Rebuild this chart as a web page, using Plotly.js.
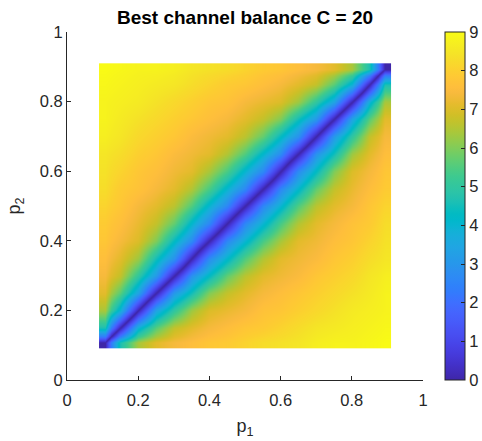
<!DOCTYPE html>
<html>
<head>
<meta charset="utf-8">
<script src="https://cdn.plot.ly/plotly-3.0.1.min.js"></script>
<style>html,body{margin:0;padding:0;background:#fff;}#chart{width:482px;height:441px;}</style>
</head>
<body>
<div id="chart"></div>
<script>
// ---- data ----
const p1Vals = [0.10,0.15,0.20,0.25,0.30,0.35,0.40,0.45,0.50,0.55,0.60,0.65,0.70,0.75,0.80,0.85,0.90];
const p2Vals = [0.10,0.15,0.20,0.25,0.30,0.35,0.40,0.45,0.50,0.55,0.60,0.65,0.70,0.75,0.80,0.85,0.90];
// balance[j][i] : value at p1 = p1Vals[i], p2 = p2Vals[j]
const balance = [
  [0.0,4.6,6.4,7.1,7.4,7.6,7.8,7.9,8.1,8.3,8.4,8.5,8.7,8.8,8.8,8.9,9.0],
  [4.6,0.0,3.9,5.6,6.7,7.1,7.4,7.6,7.8,7.9,8.1,8.3,8.5,8.6,8.7,8.8,8.9],
  [6.4,3.9,0.0,3.4,5.0,6.3,7.0,7.2,7.4,7.7,7.8,8.0,8.2,8.4,8.6,8.7,8.8],
  [7.1,5.6,3.4,0.0,3.1,4.5,6.0,6.7,7.1,7.4,7.6,7.8,8.0,8.2,8.4,8.6,8.8],
  [7.4,6.7,5.0,3.1,0.0,2.9,4.3,5.7,6.6,7.1,7.3,7.5,7.8,8.0,8.2,8.5,8.7],
  [7.6,7.1,6.3,4.5,2.9,0.0,2.7,4.1,5.5,6.5,7.1,7.3,7.5,7.8,8.0,8.3,8.5],
  [7.8,7.4,7.0,6.0,4.3,2.7,0.0,2.6,4.0,5.4,6.4,7.1,7.3,7.6,7.8,8.1,8.4],
  [7.9,7.6,7.2,6.7,5.7,4.1,2.6,0.0,2.6,4.0,5.4,6.5,7.1,7.4,7.7,7.9,8.3],
  [8.1,7.8,7.4,7.1,6.6,5.5,4.0,2.6,0.0,2.6,4.0,5.5,6.6,7.1,7.4,7.8,8.1],
  [8.3,7.9,7.7,7.4,7.1,6.5,5.4,4.0,2.6,0.0,2.6,4.1,5.7,6.7,7.2,7.6,7.9],
  [8.4,8.1,7.8,7.6,7.3,7.1,6.4,5.4,4.0,2.6,0.0,2.7,4.3,6.0,7.0,7.4,7.8],
  [8.5,8.3,8.0,7.8,7.5,7.3,7.1,6.5,5.5,4.1,2.7,0.0,2.9,4.5,6.3,7.1,7.6],
  [8.7,8.5,8.2,8.0,7.8,7.5,7.3,7.1,6.6,5.7,4.3,2.9,0.0,3.1,5.0,6.7,7.4],
  [8.8,8.6,8.4,8.2,8.0,7.8,7.6,7.4,7.1,6.7,6.0,4.5,3.1,0.0,3.4,5.6,7.1],
  [8.8,8.7,8.6,8.4,8.2,8.0,7.8,7.7,7.4,7.2,7.0,6.3,5.0,3.4,0.0,3.9,6.4],
  [8.9,8.8,8.7,8.6,8.5,8.3,8.1,7.9,7.8,7.6,7.4,7.1,6.7,5.6,3.9,0.0,4.6],
  [9.0,8.9,8.8,8.8,8.7,8.5,8.4,8.3,8.1,7.9,7.8,7.6,7.4,7.1,6.4,4.6,0.0]
];
const xTicks = [0,0.2,0.4,0.6,0.8,1];
const yTicks = [0,0.2,0.4,0.6,0.8,1];
const cbTicks = [0,1,2,3,4,5,6,7,8,9];
const titleText = 'Best channel balance C = 20';
const xLabel = 'p<sub>1</sub>';
const yLabel = 'p<sub>2</sub>';

// ---- styling ----
const parula = [
[0.2422,0.1504,0.6603],[0.2504,0.1650,0.7076],[0.2578,0.1818,0.7511],[0.2647,0.1978,0.7952],
[0.2706,0.2147,0.8364],[0.2751,0.2342,0.8710],[0.2783,0.2559,0.8991],[0.2803,0.2782,0.9221],
[0.2813,0.3006,0.9414],[0.2810,0.3228,0.9579],[0.2795,0.3447,0.9717],[0.2760,0.3667,0.9829],
[0.2699,0.3892,0.9906],[0.2602,0.4123,0.9952],[0.2440,0.4358,0.9988],[0.2206,0.4603,0.9973],
[0.1963,0.4847,0.9892],[0.1834,0.5074,0.9798],[0.1786,0.5289,0.9682],[0.1764,0.5499,0.9520],
[0.1687,0.5703,0.9359],[0.1540,0.5902,0.9218],[0.1460,0.6091,0.9079],[0.1380,0.6276,0.8973],
[0.1248,0.6459,0.8883],[0.1113,0.6635,0.8763],[0.0952,0.6798,0.8598],[0.0689,0.6948,0.8394],
[0.0297,0.7082,0.8163],[0.0036,0.7203,0.7917],[0.0067,0.7312,0.7660],[0.0433,0.7411,0.7394],
[0.0964,0.7500,0.7120],[0.1408,0.7584,0.6842],[0.1717,0.7670,0.6554],[0.1938,0.7758,0.6251],
[0.2161,0.7843,0.5923],[0.2470,0.7918,0.5567],[0.2906,0.7973,0.5188],[0.3406,0.8008,0.4789],
[0.3909,0.8029,0.4354],[0.4456,0.8024,0.3909],[0.5044,0.7993,0.3480],[0.5616,0.7942,0.3045],
[0.6174,0.7876,0.2612],[0.6720,0.7793,0.2227],[0.7242,0.7698,0.1910],[0.7738,0.7598,0.1646],
[0.8203,0.7498,0.1535],[0.8634,0.7406,0.1596],[0.9035,0.7330,0.1774],[0.9393,0.7288,0.2100],
[0.9728,0.7298,0.2394],[0.9956,0.7434,0.2371],[0.9970,0.7659,0.2199],[0.9952,0.7893,0.2028],
[0.9892,0.8136,0.1885],[0.9786,0.8386,0.1766],[0.9676,0.8639,0.1643],[0.9610,0.8890,0.1537],
[0.9597,0.9135,0.1423],[0.9628,0.9373,0.1265],[0.9691,0.9606,0.1064],[0.9769,0.9839,0.0805]
];
const rgb = c => 'rgb(' + c.map(v => Math.round(v*255)).join(',') + ')';
const N = parula.length - 1;
const parulaScale = parula.map((c,k) => [k/N, rgb(c)]);
// mirrored scale for a signed field (the sign only marks the side of the diagonal,
// so the library's interpolation puts the zero exactly on p1 = p2)
const mirrored = [];
for (let k = N; k >= 1; k--) mirrored.push([0.5 - 0.5*k/N, rgb(parula[k])]);
for (let k = 0; k <= N; k++) mirrored.push([0.5 + 0.5*k/N, rgb(parula[k])]);

const zSigned = balance.map((row,j) => row.map((v,i) => (p2Vals[j] > p1Vals[i] ? 1 : -1) * v));
const half = 0.01; // half marker size at the extent
const edges = arr => {
  const e = [arr[0] - half];
  for (let k = 0; k < arr.length - 1; k++) e.push((arr[k] + arr[k+1]) / 2);
  e.push(arr[arr.length-1] + half);
  return e;
};

const FONT = 'Liberation Sans, Arial, Helvetica, sans-serif';
const AX = '#262626';

const traces = [
  {
    type: 'heatmap',
    x: edges(p1Vals), y: edges(p2Vals), z: zSigned,
    zmin: -9, zmax: 9, zsmooth: 'best',
    colorscale: mirrored, showscale: false, hoverinfo: 'skip'
  },
  {
    type: 'scatter', x: [null], y: [null], mode: 'markers', showlegend: false, hoverinfo: 'skip',
    marker: {
      color: [0], cmin: cbTicks[0], cmax: cbTicks[cbTicks.length-1], colorscale: parulaScale, showscale: true,
      colorbar: {
        x: 1.063, xanchor: 'left', xpad: 0, y: 0.5, yanchor: 'middle', len: 1, lenmode: 'fraction', ypad: 0,
        thickness: 20, outlinewidth: 1, outlinecolor: AX,
        ticks: 'inside', ticklen: 4, tickcolor: AX, tickvals: cbTicks,
        tickfont: {family: FONT, size: 16.5, color: AX}
      }
    }
  }
];

const axisCommon = {
  range: [0, 1], showgrid: false, zeroline: false, showline: true, linecolor: AX, linewidth: 1,
  ticks: 'inside', ticklen: 4, tickcolor: AX, mirror: false, automargin: false,
  tickfont: {family: FONT, size: 16.5, color: AX}
};

const layout = {
  width: 482, height: 441,
  margin: {l: 67, r: 59, t: 32, b: 61, autoexpand: false},
  paper_bgcolor: '#fff', plot_bgcolor: '#fff',
  showlegend: false,
  title: {text: '<b>' + titleText + '</b>', font: {family: FONT, size: 19, color: '#000'},
          x: 0.5, xref: 'paper', xanchor: 'center', y: 1 - 17/441, yref: 'container', yanchor: 'middle'},
  xaxis: Object.assign({}, axisCommon, {tickvals: xTicks, ticklabelstandoff: 5,
          title: {text: xLabel, font: {family: FONT, size: 18, color: AX}, standoff: 11}}),
  yaxis: Object.assign({}, axisCommon, {tickvals: yTicks,
          title: {text: yLabel, font: {family: FONT, size: 18, color: AX}, standoff: 14}})
};

Plotly.newPlot('chart', traces, layout, {displayModeBar: false, staticPlot: true});
</script>
</body>
</html>
